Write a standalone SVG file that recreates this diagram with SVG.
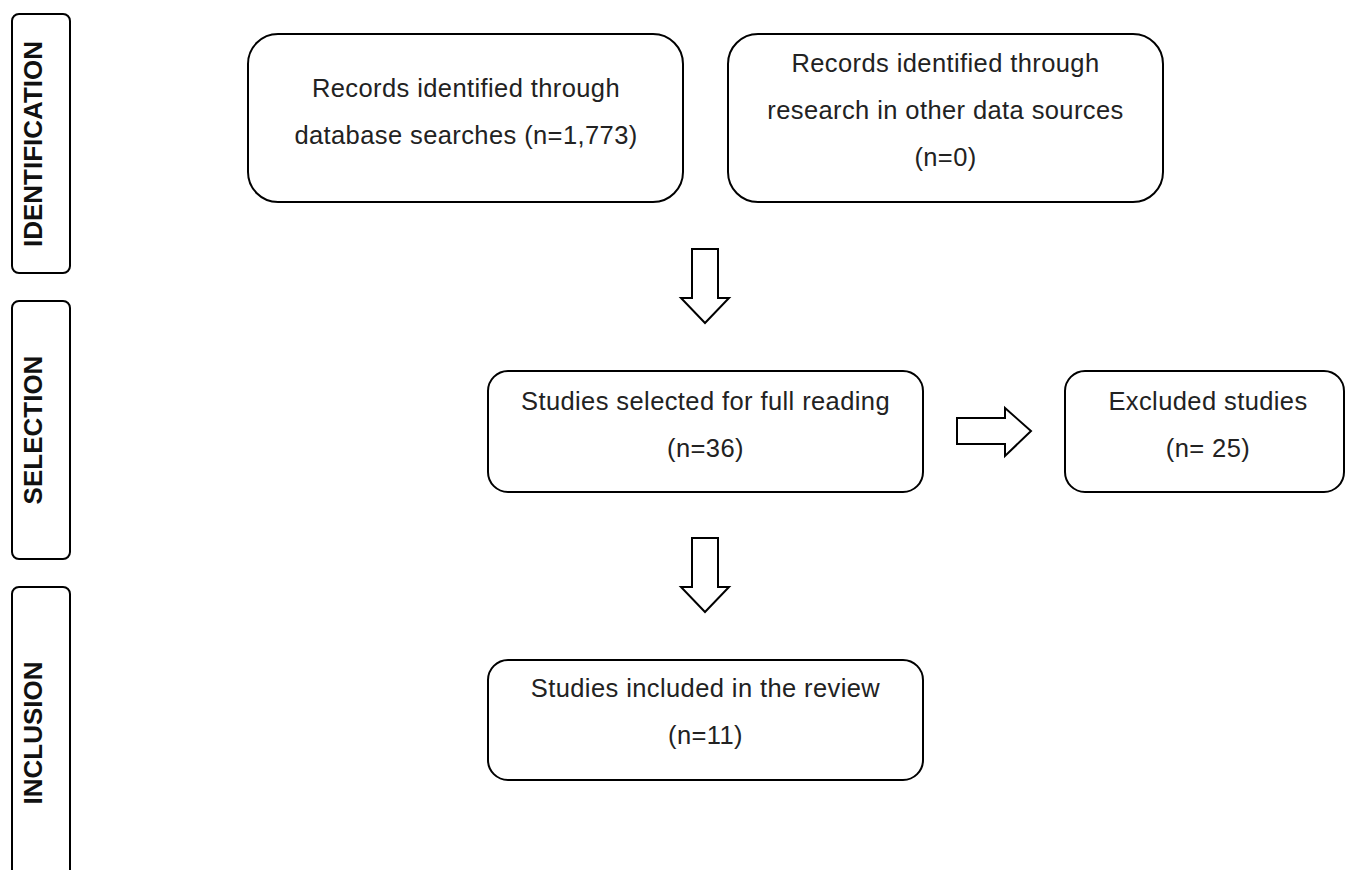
<svg xmlns="http://www.w3.org/2000/svg" width="1345" height="870" viewBox="0 0 1345 870">
<style>
.box{fill:#fff;stroke:#000;stroke-width:2}
.side{fill:#fff;stroke:#000;stroke-width:2}
.t{font-family:"Liberation Sans",Arial,sans-serif;font-size:25.5px;letter-spacing:0.4px;fill:#222;text-anchor:middle}
.s{font-family:"Liberation Sans",Arial,sans-serif;font-size:26px;font-weight:bold;fill:#111;text-anchor:middle}
.arr{fill:#fff;stroke:#000;stroke-width:2;stroke-linejoin:miter}
</style>
<rect width="1345" height="870" fill="#fff"/>
<g id="stage-identification">
<rect class="side" x="12" y="14" width="58" height="259" rx="7"/>
<text class="s" transform="translate(42,144) rotate(-90)">IDENTIFICATION</text>
</g>
<g id="stage-selection">
<rect class="side" x="12" y="301" width="58" height="258" rx="7"/>
<text class="s" transform="translate(42,430) rotate(-90)">SELECTION</text>
</g>
<g id="stage-inclusion">
<rect class="side" x="12" y="587" width="58" height="320" rx="7"/>
<text class="s" transform="translate(42,733) rotate(-90)">INCLUSION</text>
</g>
<g id="node-database">
<rect class="box" x="248" y="34" width="435" height="168" rx="30"/>
<text class="t" x="466" y="97">Records identified through</text>
<text class="t" x="466" y="144">database searches (n=1,773)</text>
</g>
<g id="node-other">
<rect class="box" x="728" y="34" width="435" height="168" rx="30"/>
<text class="t" x="945.5" y="72">Records identified through</text>
<text class="t" x="945.5" y="119">research in other data sources</text>
<text class="t" x="945.5" y="166">(n=0)</text>
</g>
<g id="node-full-reading">
<rect class="box" x="488" y="371" width="435" height="121" rx="20"/>
<text class="t" x="705.5" y="410">Studies selected for full reading</text>
<text class="t" x="705.5" y="457">(n=36)</text>
</g>
<g id="node-excluded">
<rect class="box" x="1065" y="371" width="279" height="121" rx="20"/>
<text class="t" x="1208" y="410">Excluded studies</text>
<text class="t" x="1208" y="457">(n= 25)</text>
</g>
<g id="node-included">
<rect class="box" x="488" y="660" width="435" height="120" rx="20"/>
<text class="t" x="705.5" y="697">Studies included in the review</text>
<text class="t" x="705.5" y="744">(n=11)</text>
</g>
<g id="connectors">
<polygon class="arr" points="692,249 718,249 718,298 729,298 705,323 681,298 692,298"/>
<polygon class="arr" points="692,538 718,538 718,587 729,587 705,612 681,587 692,587"/>
<polygon class="arr" points="957,418 1005,418 1005,408 1031,431 1005,456 1005,444 957,444"/>
</g>
</svg>
